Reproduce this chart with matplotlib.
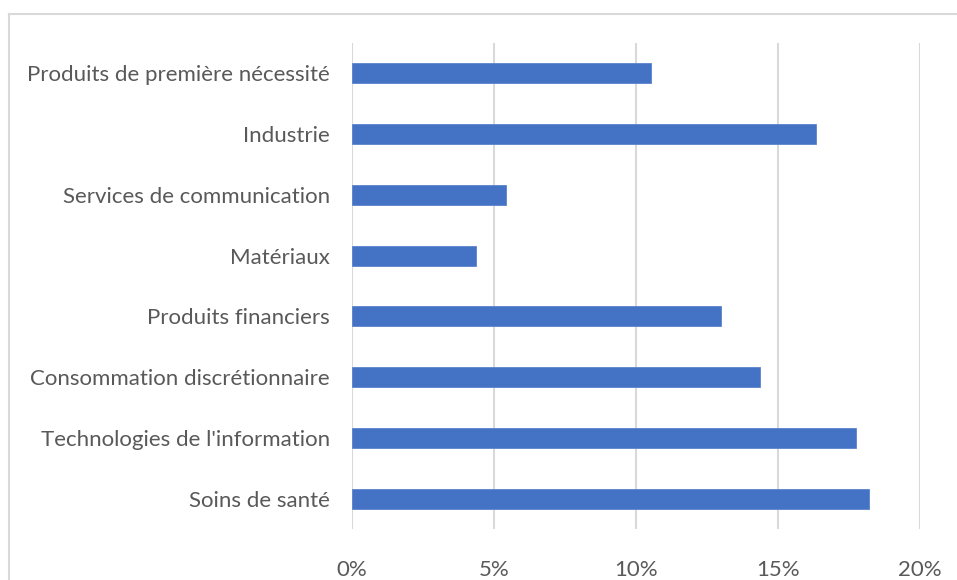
import numpy as np
import matplotlib
matplotlib.use('Agg')
import matplotlib.pyplot as plt
from matplotlib.lines import Line2D
from matplotlib.ticker import FuncFormatter

# Données du graphique (de haut en bas)
secteurs = ["Produits de première nécessité", "Industrie", "Services de communication",
            "Matériaux", "Produits financiers", "Consommation discrétionnaire",
            "Technologies de l'information", "Soins de santé"]
poids = [10.52, 16.34, 5.43, 4.35, 13.0, 14.36, 17.75, 18.2]
graduations = [0, 5, 10, 15, 20]

plt.rcParams['font.family'] = ['Lato', 'DejaVu Sans']

fig = plt.figure(figsize=(9.57, 5.8), dpi=100)
ax = fig.add_axes([352 / 957, 1 - 529 / 580, 568 / 957, 486 / 580])

y = np.arange(len(secteurs))
ax.barh(y, poids, height=0.33, color='#4472C4', edgecolor='#5B84CC', linewidth=0.6, zorder=3)
ax.set_ylim(len(secteurs) - 0.5, -0.5)
ax.set_xlim(0, 20)
ax.set_yticks(y)
ax.set_yticklabels(secteurs)
ax.set_xticks(graduations)
ax.xaxis.set_major_formatter(FuncFormatter(lambda v, p: '%d%%' % v))

ax.grid(axis='x', color='#d9d9d9', linewidth=1.5, zorder=0)
for s in ax.spines.values():
    s.set_visible(False)
ax.tick_params(axis='both', length=0, labelsize=16, labelcolor='#595959')
ax.tick_params(axis='y', pad=16)
ax.tick_params(axis='x', pad=22)

# cadre du graphique (coupé à droite et en bas)
fig.add_artist(Line2D([9 / 957, 1], [1 - 13.5 / 580] * 2, color='#d9d9d9', linewidth=1.5))
fig.add_artist(Line2D([9 / 957] * 2, [0, 1 - 13.5 / 580], color='#d9d9d9', linewidth=1.5))

fig.savefig('out.png', dpi=100)
